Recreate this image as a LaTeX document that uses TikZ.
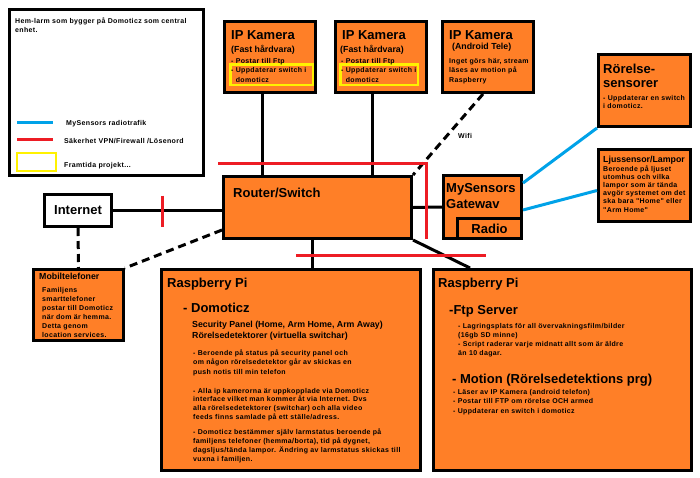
\documentclass[tikz,border=0pt]{standalone}
\usepackage{fontspec}
\setmainfont{Liberation Sans}
\newfontfamily\spacedfont{Liberation Sans}[LetterSpace=5]
\usepackage{tikz}
\usetikzlibrary{calc}
\definecolor{paintorange}{RGB}{255,127,39}
\definecolor{paintred}{RGB}{237,28,36}
\definecolor{paintblue}{RGB}{0,162,232}
\definecolor{paintyellow}{RGB}{255,242,0}
\tikzstyle{box}    = [draw=black, line width=3pt, fill=paintorange, inner sep=0pt]
\tikzstyle{link}   = [line width=3pt]
\tikzstyle{wire}   = [line width=3pt, dash pattern=on 8pt off 5pt]
\tikzstyle{sec}    = [line width=3pt, draw=paintred]
\tikzstyle{radio}  = [line width=3pt, draw=paintblue]
\tikzstyle{future} = [draw=paintyellow, line width=2.5pt, inner sep=0pt]

\begin{document}
\begin{tikzpicture}[x=1pt, y=-1pt,
    txt/.style={anchor=base west, inner sep=0pt, align=left},
    big/.style={txt, font=\bfseries\fontsize{13}{#1}\selectfont},
    big/.default=15,
    mid/.style={txt, font=\bfseries\fontsize{8.8}{#1}\selectfont},
    mid/.default=11.5,
    sm/.style={txt, font=\spacedfont\bfseries\fontsize{7}{#1}\selectfont},
    sm/.default=9.2]
  \useasboundingbox (0,0) rectangle (700,477);

  % boxes
  \node[box, fill=white, minimum width=194, minimum height=166] (legend)   at (106.5,92.5) {};
  \node[box, minimum width=91,  minimum height=71]  (cam1)     at (270,57)      {};
  \node[box, minimum width=91,  minimum height=71]  (cam2)     at (381,57)      {};
  \node[box, minimum width=91,  minimum height=71]  (cam3)     at (488,57)      {};
  \node[box, minimum width=92,  minimum height=72]  (rs)       at (644.5,90.5)  {};
  \node[box, minimum width=92,  minimum height=72]  (ljus)     at (644.5,185.5) {};
  \node[box, minimum width=188, minimum height=62]  (router)   at (317.5,207.5) {};
  \node[box, minimum width=78,  minimum height=63]  (gw)       at (482.5,207)   {};
  \node[box, minimum width=64,  minimum height=20,
        font=\bfseries\fontsize{13}{15}\selectfont] (radiobox) at (489.5,228.5) {Radio};
  \node[box, fill=white, minimum width=67, minimum height=32,
        font=\bfseries\fontsize{13}{15}\selectfont] (internet) at (78,210.5)    {Internet};
  \node[box, minimum width=90,  minimum height=71]  (mobil)    at (78.5,305)    {};
  \node[box, minimum width=259, minimum height=201] (rpiA)     at (291,370)     {};
  \node[box, minimum width=258, minimum height=201] (rpiB)     at (562.5,370)   {};
  \node[future, minimum width=82.5, minimum height=20.5] (fut1) at (271.5,74.5) {};
  \node[future, minimum width=77.5, minimum height=20.5] (fut2) at (379,74.5)   {};

  % legend (multi-line texts sit on the baseline of their last line)
  \node[sm=9.5] (hdr) at (15,32.5) {Hem-larm som bygger på Domoticz som central\\enhet.};
  \draw[radio] (17,122) -- (53,122);
  \draw[sec]   (17,139) -- (53,139);
  \draw[future] (17,153) rectangle (56,171);
  \node[sm] (legradio)  at (66,125) {MySensors radiotrafik};
  \node[sm] (legsec)    at (64,143) {Säkerhet VPN/Firewall /Lösenord};
  \node[sm] (legfuture) at (64,167) {Framtida projekt...};

  % texts
  \node[big] (cam1t) at (231,39) {IP Kamera};
  \node[mid] (cam1s) at (231,52) {(Fast hårdvara)};
  \node[sm=9.5] (cam1d) at (231,82) {- Postar till Ftp\\- Uppdaterar switch i\\\hphantom{- }domoticz};
  \node[big] (cam2t) at (342,39) {IP Kamera};
  \node[mid] (cam2s) at (340,52) {(Fast hårdvara)};
  \node[sm=9.5] (cam2d) at (341,82) {- Postar till Ftp\\- Uppdaterar switch i\\\hphantom{- }domoticz};
  \node[big] (cam3t) at (449,39) {IP Kamera};
  \node[mid] (cam3s) at (452,49) {(Android Tele)};
  \node[sm=9.5] (cam3d) at (449,82) {Inget görs här, stream\\läses av motion på\\Raspberry};
  \node[big=14] (rst) at (603,87) {Rörelse-\\sensorer};
  \node[sm=8.5] (rsd) at (603,108.5) {- Uppdaterar en switch\\i domoticz.};
  \node[mid] (ljust) at (603,162) {Ljussensor/Lampor};
  \node[sm=8.2] (ljusd) at (603,212) {Beroende på ljuset\\utomhus och vilka\\lampor som är tända\\avgör systemet om det\\ska bara "Home" eller\\"Arm Home"};
  \node[big] (routert) at (233,197) {Router/Switch};
  \node[big=16] (gwt) at (446,208) {MySensors\\Gatewav};
  \node[mid] (mobilt) at (39,279) {Mobiltelefoner};
  \node[sm=9] (mobild) at (42,337) {Familjens\\smarttelefoner\\postar till Domoticz\\när dom är hemma.\\Detta genom\\location services.};
  \node[big] (rpiAt) at (167,287) {Raspberry Pi};
  \node[big] (domo)  at (183,312) {- Domoticz};
  \node[mid] (domos) at (192,338.5) {Security Panel (Home, Arm Home, Arm Away)\\Rörelsedetektorer (virtuella switchar)};
  \node[sm=9.5] (domo1) at (193,374) {- Beroende på status på security panel och\\om någon rörelsedetektor går av skickas en\\push notis till min telefon};
  \node[sm=8.8] (domo2) at (193,419.4) {- Alla ip kamerorna är uppkopplade via Domoticz\\interface vilket man kommer åt via Internet. Dvs\\alla rörelsedetektorer (switchar) och alla video\\feeds finns samlade på ett ställe/adress.};
  \node[sm=9] (domo3) at (193,461) {- Domoticz bestämmer själv larmstatus beroende på\\familjens telefoner (hemma/borta), tid på dygnet,\\dagsljus/tända lampor. Ändring av larmstatus skickas till\\vuxna i familjen.};
  \node[big] (rpiBt) at (438,287) {Raspberry Pi};
  \node[big] (ftp)   at (449,314) {-Ftp Server};
  \node[sm=9] (ftpd) at (458,355) {- Lagringsplats för all övervakningsfilm/bilder\\(16gb SD minne)\\- Script raderar varje midnatt allt som är äldre\\än 10 dagar.};
  \node[big] (motion)  at (452,383) {- Motion (Rörelsedetektions prg)};
  \node[sm=9.5] (motiond) at (453,413) {- Läser av IP Kamera (android telefon)\\- Postar till FTP om rörelse OCH armed\\- Uppdaterar en switch i domoticz};
  \node[sm] (wifi) at (458,138) {Wifi};

  % connections
  \draw[link] ([shift={(-8,0)}]cam1.south) -- ([shift={(-8,0)}]cam1.south |- router.north);
  \draw[link] ([shift={(-9,0)}]cam2.south) -- ([shift={(-9,0)}]cam2.south |- router.north);
  \draw[wire] ([shift={(-5,0)}]cam3.south) -- (router.north east);
  \draw[link] (router.east) -- (gw.west);
  \draw[link] (internet.east) -- (internet.east -| router.west);
  \draw[wire] (internet.south) -- (mobil.north);
  \draw[wire] ([shift={(0,-10)}]router.south west) -- (mobil.north east);
  \draw[link] ([shift={(-5.5,0)}]router.south) -- ([shift={(-5.5,0)}]router.south |- rpiA.north);
  \draw[link] (router.south east) -- ([shift={(38,0)}]rpiB.north west);
  \draw[radio] ([shift={(0,9)}]gw.north east) -- (rs.south west);
  \draw[radio] ([shift={(0,3)}]gw.east) -- ([shift={(0,5)}]ljus.west);

  % security
  \draw[sec] ($(internet.east)!.45!(internet.east -| router.west) + (0,-15)$) -- ++(0,31);
  \draw[sec] ([shift={(-4,-12)}]router.north west) -| ([shift={(13,-1)}]router.south east);
  \draw[sec] ([shift={(-21.5,15)}]router.south) -- ([shift={(168.5,15)}]router.south);
\end{tikzpicture}
\end{document}
